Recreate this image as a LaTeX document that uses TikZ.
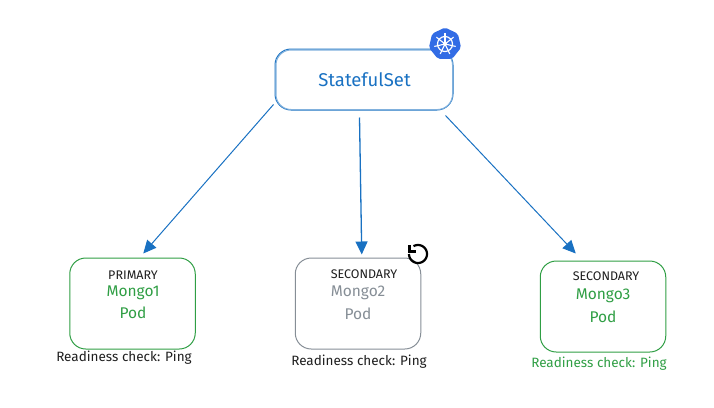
\documentclass[tikz,border=0pt]{standalone}
\usepackage{fontspec}
\setmainfont{Fira Sans}
\usetikzlibrary{arrows.meta}
\definecolor{bl}{HTML}{1971C2}
\definecolor{gr}{HTML}{2F9E44}
\definecolor{gy}{HTML}{868E96}
\definecolor{dk}{HTML}{1E1E1E}
\definecolor{kb}{HTML}{326CE5}
\tikzset{
  podbox/.style={draw=#1,line width=1pt,rounded corners=16pt,inner sep=0pt,minimum width=125.5pt,minimum height=91pt},
  conn/.style={draw=bl,line width=1pt,-{Triangle[length=13pt,width=12pt,fill=bl]}},
  roletext/.style={text=dk,font=\fontsize{12.5}{14}\selectfont,inner sep=0pt},
  podtext/.style={text=#1,font=\fontsize{15.5}{18}\selectfont,inner sep=0pt},
  checktext/.style={text=#1,font=\fontsize{13.5}{16}\selectfont,inner sep=0pt},
}
\begin{document}
\begin{tikzpicture}[x=1pt,y=-1pt]
\useasboundingbox (0,0) rectangle (714,407);
\node[podbox=bl,minimum width=178pt,minimum height=61pt] (ss) at (364,79.5) {};
\draw[bl!55,line width=1pt,rounded corners=15pt] (276,50) rectangle (452.5,109.5);
\node[text=bl,font=\fontsize{18.5}{22}\selectfont,inner sep=0pt] (sst) at (364.5,80) {StatefulSet};
% kubernetes badge
\fill[kb,rounded corners=2pt] plot[samples at={0,1,...,6}] ({445+16.5*sin(\x*360/7)},{44-16.5*cos(\x*360/7)}) -- cycle;
\draw[white,line width=1.2pt] (445,44) circle[radius=7.5];
\fill[white] (445,44) circle[radius=2];
\foreach \a in {0,1,...,6}
  \draw[white,line width=1.1pt] ({445+1*sin(\a*360/7)},{44-1*cos(\a*360/7)}) -- ({445+11*sin(\a*360/7)},{44-11*cos(\a*360/7)});
% pods
\node[podbox=gr] (p1) at (132.5,303.5) {};
\node[podbox=gy] (p2) at (358,303.5) {};
\node[podbox=gr] (p3) at (603,306.5) {};
\node[roletext] (r1) at (133,275) {PRIMARY};
\node[podtext=gr] (m1) at (133,293) {Mongo1};
\node[podtext=gr] (q1) at (133,313) {Pod};
\node[checktext=dk] (c1) at (124,358) {Readiness check: Ping};
\node[roletext] (r2) at (364,274) {SECONDARY};
\node[podtext=gy] (m2) at (358,293) {Mongo2};
\node[podtext=gy] (q2) at (358,314) {Pod};
\node[checktext=dk] (c2) at (359,361.5) {Readiness check: Ping};
\node[roletext] (r3) at (606,276) {SECONDARY};
\node[podtext=gr] (m3) at (603,296) {Mongo3};
\node[podtext=gr] (q3) at (603,317) {Pod};
\node[checktext=gr] (c3) at (599,363.5) {Readiness check: Ping};
% connectors
\draw[conn] ([shift={(-1,-6)}]ss.south west) -- ([shift={(74,-4)}]p1.north west);
\draw[conn,line width=1.3pt] ([shift={(85,7)}]ss.south west) -- ([shift={(67,-3)}]p2.north west);
\draw[conn] ([shift={(-8,5)}]ss.south east) -- ([shift={(36,-7)}]p3.north west);
% restart icon
\draw[black,line width=2.2pt] plot[domain=180:480,samples=50] ({418+9*cos(\x)},{254-9*sin(\x)});
\draw[black,line width=2.2pt] (409.5,245) -- (409.5,251.5) -- (416,251.5);
\end{tikzpicture}
\end{document}
